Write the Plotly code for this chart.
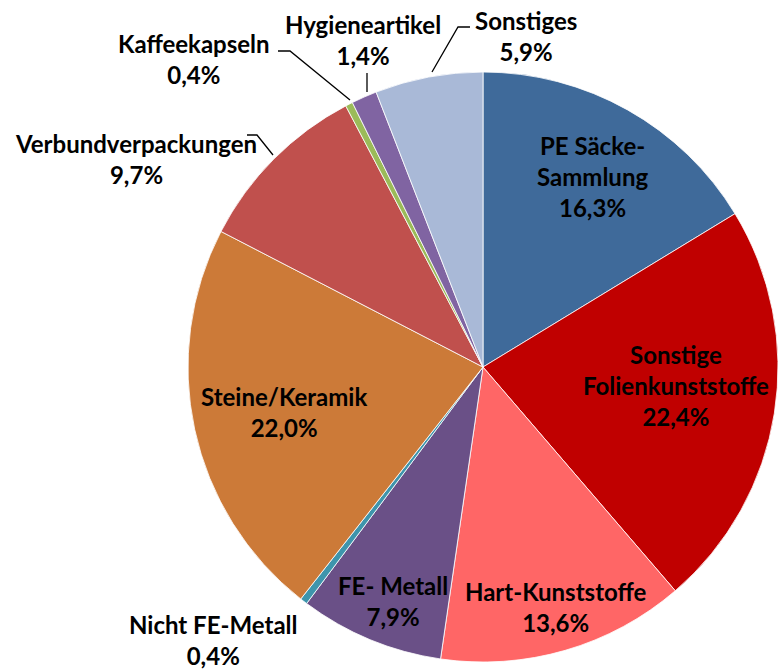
import plotly.graph_objects as go

W, H = 778, 671

categories = ["PE Säcke-Sammlung", "Sonstige Folienkunststoffe", "Hart-Kunststoffe",
              "FE- Metall", "Nicht FE-Metall", "Steine/Keramik", "Verbundverpackungen",
              "Kaffeekapseln", "Hygieneartikel", "Sonstiges"]
display_labels = ["PE Säcke-<br>Sammlung", "Sonstige<br>Folienkunststoffe", "Hart-Kunststoffe",
                  "FE- Metall", "Nicht FE-Metall", "Steine/Keramik", "Verbundverpackungen",
                  "Kaffeekapseln", "Hygieneartikel", "Sonstiges"]
values = [16.3, 22.4, 13.6, 7.9, 0.4, 22.0, 9.7, 0.4, 1.4, 5.9]
colors = ["#3F6A9A", "#C00000", "#FF6666", "#6A5087", "#3E95AC", "#CC7A38",
          "#C0504D", "#9BBB59", "#8064A2", "#A9B9D7"]

# label block centres in pixels (text placement)
label_pos = [(592, 176), (676, 385), (556, 607), (393, 601), (213, 640),
             (284, 412), (136, 159), (194, 59), (363, 40), (526, 36)]

# leader lines (pixel paths)
leaders = [
    [(278, 51), (290, 51), (350, 100)],   # Kaffeekapseln
    [(367, 73), (367, 92)],               # Hygieneartikel
    [(470, 27), (458, 27), (432, 72)],    # Sonstiges
    [(247, 135), (257, 135), (273, 155)], # Verbundverpackungen
]

def px(x, y):
    return x / W, 1 - y / H

fig = go.Figure(go.Pie(
    labels=categories, values=values, sort=False, direction="clockwise", rotation=0,
    marker=dict(colors=colors, line=dict(color="white", width=0.8)),
    textinfo="none", hoverinfo="label+percent",
    domain=dict(x=[188 / W, 1], y=[0.006, 0.9]),
    showlegend=False,
))

for lab, v, (x, y) in zip(display_labels, values, label_pos):
    xp, yp = px(x, y)
    fig.add_annotation(x=xp, y=yp, xref="paper", yref="paper", showarrow=False,
                       text="<b>" + lab + "<br>" + f"{v:.1f}".replace(".", ",") + "%</b>",
                       xanchor="center", yanchor="middle", align="center",
                       font=dict(family="Lato", size=24, color="black"))

for pts in leaders:
    d = "M " + " L ".join(f"{px(x, y)[0]:.5f},{px(x, y)[1]:.5f}" for x, y in pts)
    fig.add_shape(type="path", path=d, xref="paper", yref="paper",
                  line=dict(color="black", width=1.3))

fig.update_layout(width=W, height=H, margin=dict(l=0, r=0, t=0, b=0),
                  paper_bgcolor="white", plot_bgcolor="white")
fig.write_html("out.html", config={"displayModeBar": False},
               post_script="document.body.style.margin='0';document.body.style.overflow='hidden';")
